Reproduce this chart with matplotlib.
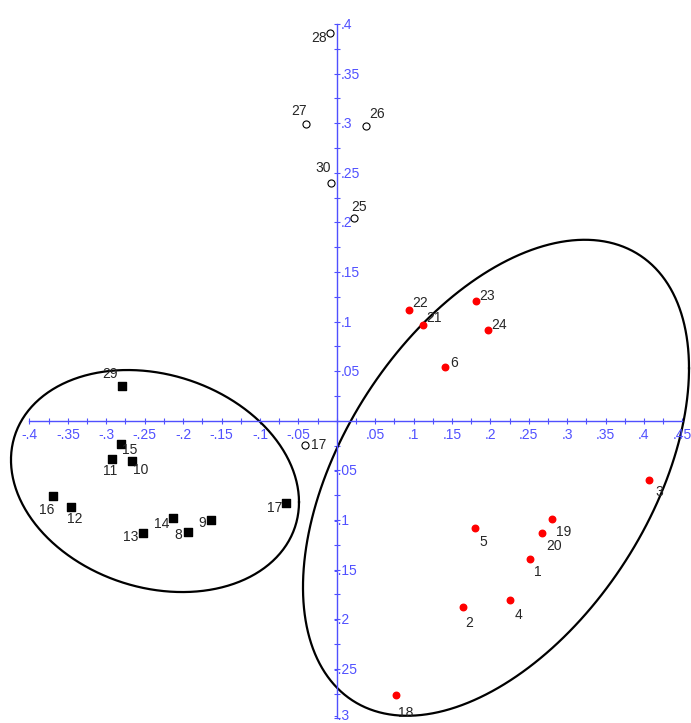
import numpy as np
import matplotlib
matplotlib.use('Agg')
import matplotlib.pyplot as plt

plt.rcParams['font.family'] = ['Liberation Sans', 'DejaVu Sans']

# red dots (right cluster)
red_ids = ['1', '2', '3', '4', '5', '6', '18', '19', '20', '21', '22', '23', '24']
red_x = [0.252, 0.164, 0.407, 0.226, 0.180, 0.141, 0.077, 0.280, 0.267, 0.113, 0.094, 0.181, 0.197]
red_y = [-0.139, -0.188, -0.060, -0.181, -0.108, 0.054, -0.276, -0.099, -0.113, 0.096, 0.112, 0.121, 0.091]
red_off = [(8, -13), (7, -16), (10, -12), (8, -15), (8, -14), (9, 4), (10, -18),
           (12, -13), (12, -13), (11, 7), (11, 7), (11, 5), (11, 5)]

# black squares (left cluster)
sq_ids = ['29', '15', '11', '10', '16', '12', '13', '14', '8', '9', '17']
sq_x = [-0.279, -0.281, -0.293, -0.267, -0.370, -0.346, -0.252, -0.213, -0.194, -0.164, -0.066]
sq_y = [0.035, -0.023, -0.039, -0.041, -0.076, -0.087, -0.113, -0.098, -0.112, -0.100, -0.083]
sq_off = [(-12, 12), (9, -6), (-2, -12), (9, -9), (-6, -14), (4, -12), (-12, -4),
          (-11, -6), (-9, -3), (-9, -3), (-11, -5)]

# open circles
oc_ids = ['17', '28', '27', '26', '30', '25']
oc_x = [-0.041, -0.009, -0.040, 0.038, -0.008, 0.022]
oc_y = [-0.024, 0.391, 0.299, 0.297, 0.240, 0.204]
oc_off = [(13, 0), (-11, -5), (-7, 13), (11, 12), (-7, 15), (5, 11)]

# ellipses: centre x, centre y, sd x, sd y, correlation
ell_left = (-0.2366, -0.0608, 0.1875, 0.1119, -0.19)
ell_right = (0.2074, -0.0575, 0.2513, 0.2399, 0.46)

x_ticks = np.round(np.arange(-0.4, 0.4501, 0.025), 3)
y_ticks = np.round(np.arange(-0.3, 0.4001, 0.025), 3)

blue = '#5050ff'
txt = '#262626'


def fmt(v):
    s = '%.2f' % v
    s = s.rstrip('0')
    return s.replace('0.', '.')


fig = plt.figure(figsize=(6.91, 7.23), dpi=100)
ax = fig.add_axes([0, 0, 1, 1])
ax.set_xlim(-0.4384, 0.4613)
ax.set_ylim(-0.3047, 0.4241)

for s in ['top', 'right']:
    ax.spines[s].set_visible(False)
ax.spines['bottom'].set_position(('data', 0))
ax.spines['left'].set_position(('data', 0))
ax.spines['bottom'].set_bounds(x_ticks[0], x_ticks[-1])
ax.spines['left'].set_bounds(y_ticks[0], y_ticks[-1])
for s in ['bottom', 'left']:
    ax.spines[s].set_color(blue)
    ax.spines[s].set_linewidth(1.0)
ax.set_xticks(x_ticks)
ax.set_yticks(y_ticks)
ax.tick_params(direction='inout', length=4.5, width=0.8, color=blue,
               labelbottom=False, labelleft=False)

for v in x_ticks[::2]:
    if abs(v) < 1e-9:
        continue
    ax.annotate(fmt(v), (v, 0), xytext=(0, -14), textcoords='offset pixels',
                ha='center', va='center', color=blue, fontsize=10)
for v in y_ticks[::2]:
    if abs(v) < 1e-9:
        continue
    dx = -3 if v < 0 else 4
    dy = 2 if v == y_ticks[0] else -1
    ax.annotate(fmt(v), (0, v), xytext=(dx, dy), textcoords='offset pixels',
                ha='left', va='center', color=blue, fontsize=10)

# ellipses
t = np.linspace(0, 2 * np.pi, 400)
for cx, cy, sx, sy, r in [ell_left, ell_right]:
    ex = cx + sx * np.cos(t)
    ey = cy + sy * (r * np.cos(t) + np.sqrt(1 - r ** 2) * np.sin(t))
    ax.plot(ex, ey, color='black', lw=1.6)

ax.scatter(red_x, red_y, s=22, color='red', zorder=3)
ax.scatter(sq_x, sq_y, s=30, marker='s', color='black', zorder=3)
ax.scatter(oc_x, oc_y, s=26, marker='o', facecolors='white', edgecolors='black', linewidths=0.8, zorder=3)

for ids, xs, ys, offs in [(red_ids, red_x, red_y, red_off),
                          (sq_ids, sq_x, sq_y, sq_off),
                          (oc_ids, oc_x, oc_y, oc_off)]:
    for i in range(len(ids)):
        ax.annotate(ids[i], (xs[i], ys[i]), xytext=offs[i], textcoords='offset pixels',
                    ha='center', va='center', color=txt, fontsize=10)

fig.savefig('out.png', dpi=100)
